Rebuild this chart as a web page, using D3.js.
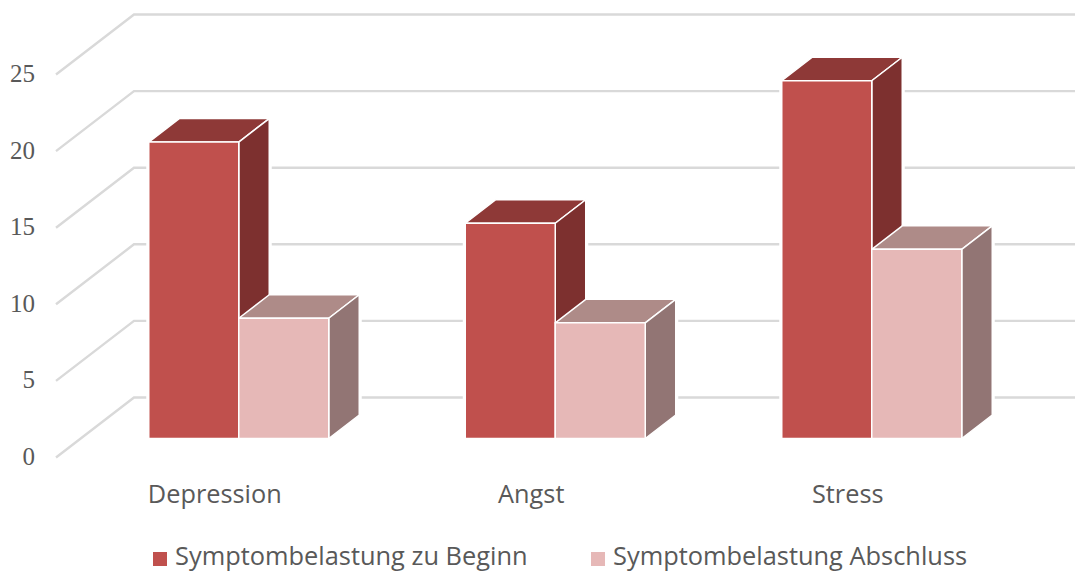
<!DOCTYPE html>
<html lang="de">
<head>
<meta charset="UTF-8">
<title>Symptombelastung</title>
<script src="https://d3js.org/d3.v7.min.js"></script>
<style>
    body { margin: 0; background: #fff; }
    svg { display: block; }
    .tick-y text { font-family: "Liberation Serif", serif; font-size: 25px; fill: #595959; }
    .tick-x text, .legend text { font-family: "Open Sans", sans-serif; fill: #595959; }
    .tick-x text { font-size: 25.3px; }
    .legend text { font-size: 25.4px; }
</style>
</head>
<body>
<svg id="chart" width="1075" height="573"></svg>
<script>
const categories = ["Depression", "Angst", "Stress"];
const seriesNames = ["Symptombelastung zu Beginn", "Symptombelastung Abschluss"];
const beginValues = [19.35, 14.05, 23.35];
const endValues = [7.85, 7.55, 12.35];
const yTicks = [0, 5, 10, 15, 20, 25];

const colors = [
    { front: "#C0504D", top: "#8E3937", side: "#7D302F" },
    { front: "#E6B8B7", top: "#AE8B88", side: "#927574" }
];

const svg = d3.select("#chart");

// front edge of the floor, the wall sits floor.dx/dy behind it
const floor = { dx: 78, dy: -60 };
const inset = { dx: 25, dy: -19 };
const depth = { dx: 30.5, dy: -23.5 };

const y = d3.scaleLinear().domain([0, 25]).range([457.5, 74.5]);
const x = d3.scaleBand().domain(categories).range([80.5, 1030]).paddingInner(0).paddingOuter(0);
const inner = d3.scaleBand().domain([0, 1]).range([0, 180]);

// gridlines: side wall + back wall
const grid = svg.append("g");
grid.selectAll("path").data(yTicks).enter().append("path")
    .attr("fill", "none")
    .attr("stroke", "#D9D9D9")
    .attr("stroke-width", 2.4)
    .attr("d", d => {
        const p = d3.path();
        p.moveTo(56, y(d));
        p.lineTo(56 + floor.dx, y(d) + floor.dy);
        p.lineTo(1075, y(d) + floor.dy);
        return p.toString();
    });

function poly(pts) {
    return "M" + pts.map(p => p.join(",")).join("L") + "Z";
}

const rows = [];
[beginValues, endValues].forEach((vals, s) => {
    vals.forEach((v, i) => rows.push({ s, v, cat: categories[i] }));
});

// the three faces of one bar
function faces(d) {
    const x0 = x(d.cat) + (x.bandwidth() - inner.range()[1]) / 2 + inner(d.s);
    const x1 = x0 + inner.bandwidth();
    const yBase = y(0) + inset.dy;
    const yTop = y(d.v) + inset.dy;
    return {
        front: [[x0, yTop], [x1, yTop], [x1, yBase], [x0, yBase]],
        top: [[x0, yTop], [x0 + depth.dx, yTop + depth.dy], [x1 + depth.dx, yTop + depth.dy], [x1, yTop]],
        side: [[x1, yTop], [x1 + depth.dx, yTop + depth.dy], [x1 + depth.dx, yBase + depth.dy], [x1, yBase]]
    };
}

// white halo cuts the gridlines next to the bars, drawn first so it never eats a bar
svg.append("g").selectAll("path").data(rows).enter().append("path")
    .attr("d", d => {
        const f = faces(d);
        return poly(f.top) + poly(f.side) + poly(f.front);
    })
    .attr("fill", "#fff")
    .attr("stroke", "#fff")
    .attr("stroke-width", 5)
    .attr("stroke-linejoin", "round");

const bars = svg.append("g").selectAll("g").data(rows).enter().append("g");

bars.each(function(d) {
    const g = d3.select(this);
    const f = faces(d);
    const c = colors[d.s];
    [[f.top, c.top], [f.side, c.side], [f.front, c.front]].forEach(([pts, col]) => {
        g.append("path").attr("d", poly(pts))
            .attr("fill", col)
            .attr("stroke", "#fff")
            .attr("stroke-width", 1.5)
            .attr("stroke-linejoin", "round");
    });
});

const yAxis = svg.append("g").attr("class", "tick-y")
    .attr("transform", "translate(35,-1)")
    .call(d3.axisLeft(y).tickValues(yTicks).tickSize(0).tickPadding(0));
yAxis.select(".domain").remove();

const xAxis = svg.append("g").attr("class", "tick-x")
    .attr("transform", "translate(-24,0)")
    .call(d3.axisBottom(x).tickSize(0).tickPadding(0));
xAxis.select(".domain").remove();
xAxis.selectAll("text").attr("y", 503).attr("dy", 0);

// legend
const legendX = [{ box: 153, text: 175 }, { box: 591, text: 613 }];
const legend = svg.append("g").attr("class", "legend")
    .selectAll("g").data(seriesNames).enter().append("g");
legend.append("rect")
    .attr("x", (d, i) => legendX[i].box)
    .attr("y", 552).attr("width", 14).attr("height", 14)
    .attr("fill", (d, i) => colors[i].front);
legend.append("text")
    .attr("x", (d, i) => legendX[i].text)
    .attr("y", 565)
    .text(d => d);
</script>
</body>
</html>
